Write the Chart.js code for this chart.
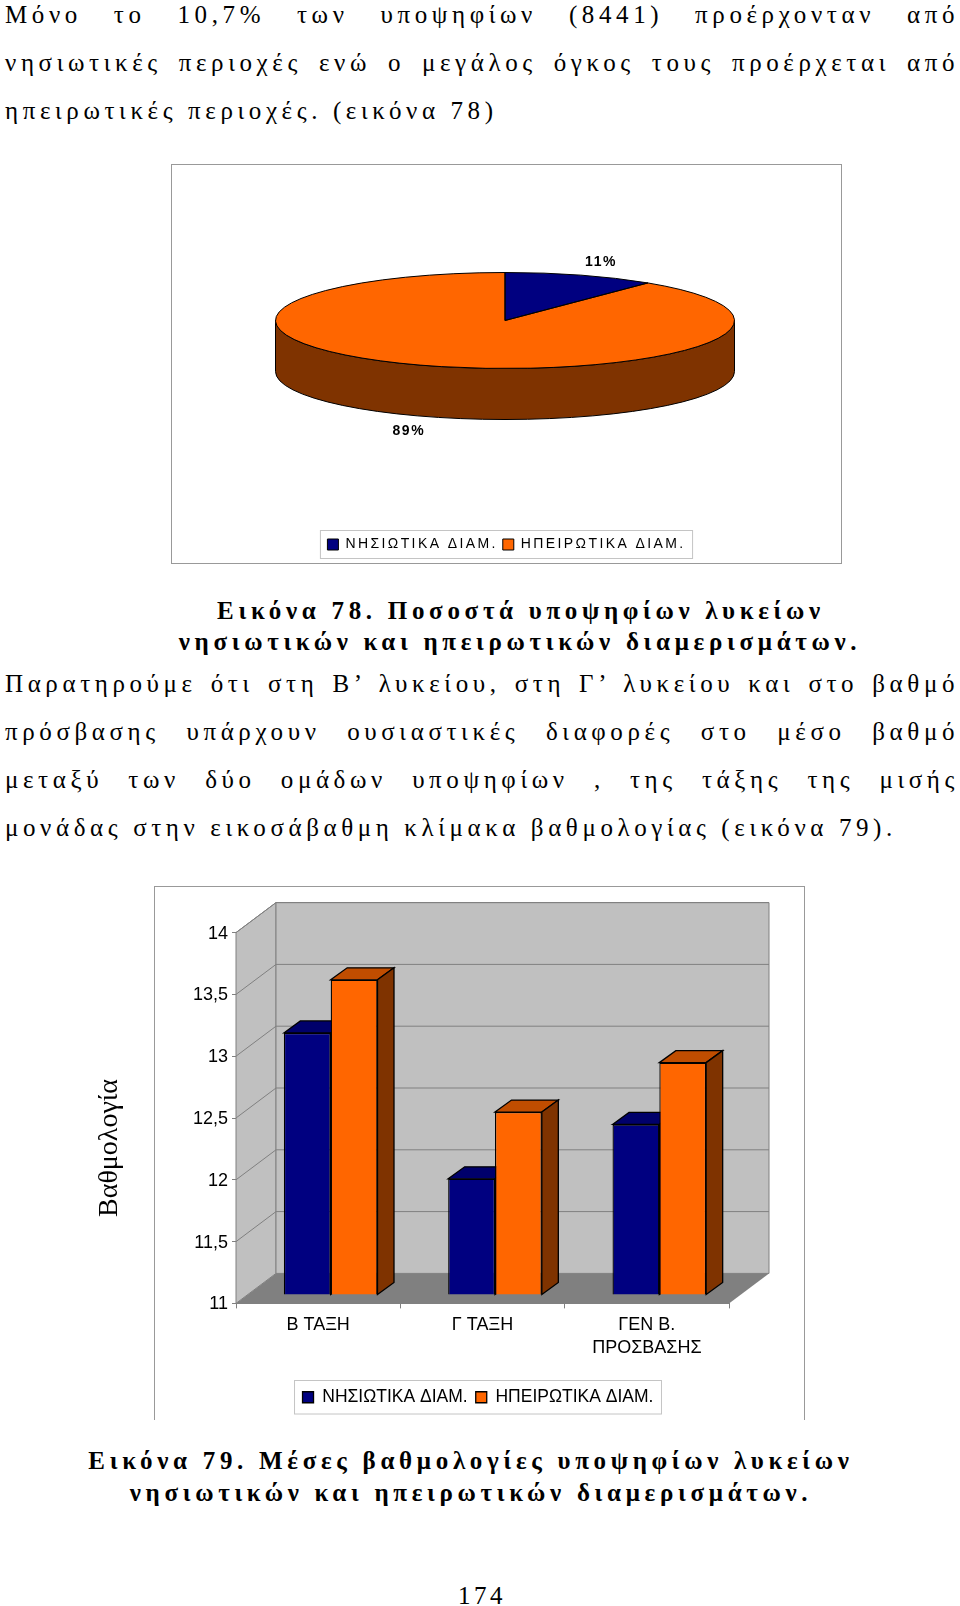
<!DOCTYPE html>
<html lang="el">
<head>
<meta charset="utf-8">
<title>Εικόνα 78-79</title>
<script src="https://cdn.jsdelivr.net/npm/chart.js@4"></script>
<style>
html, body { margin: 0; background: #fff; }
body { position: relative; width: 960px; height: 1606px; overflow: hidden; font-family: "Liberation Serif", serif; color: #000; }
.line { position: absolute; left: 5px; width: 954px; height: 30px; line-height: 30px; font-size: 25px; letter-spacing: 4.6px; white-space: normal; text-align: justify; text-align-last: justify; }
.line.free { text-align-last: left; white-space: nowrap; }
.cap { position: absolute; left: 0; width: 960px; height: 30px; line-height: 30px; font-size: 25px; font-weight: bold; letter-spacing: 4.7px; text-align: center; white-space: nowrap; }
.frame { position: absolute; box-sizing: border-box; border: 1px solid #999; }
canvas { position: absolute; }
</style>
</head>
<body>
<div class="line" style="top:0px">Μόνο το 10,7% των υποψηφίων (8441) προέρχονταν από</div>
<div class="line" style="top:48px">νησιωτικές περιοχές ενώ ο μεγάλος όγκος τους προέρχεται από</div>
<div class="line free" style="top:96px">ηπειρωτικές περιοχές. (εικόνα 78)</div>

<div class="frame" style="left:171px;top:164px;width:671px;height:400px"></div>
<canvas id="pieChart" width="671" height="400" style="left:171px;top:164px"></canvas>

<div class="cap" style="top:596px;left:41px">Εικόνα 78. Ποσοστά υποψηφίων λυκείων</div>
<div class="cap" style="top:627px;left:40px">νησιωτικών και ηπειρωτικών διαμερισμάτων.</div>

<div class="line" style="top:669px">Παρατηρούμε ότι στη Β’ λυκείου, στη Γ’ λυκείου και στο βαθμό</div>
<div class="line" style="top:717px">πρόσβασης υπάρχουν ουσιαστικές διαφορές στο μέσο βαθμό</div>
<div class="line" style="top:765px">μεταξύ των δύο ομάδων υποψηφίων , της τάξης της μισής</div>
<div class="line free" style="top:813px">μονάδας στην εικοσάβαθμη κλίμακα βαθμολογίας (εικόνα 79).</div>

<div class="frame" style="left:154px;top:886px;width:651px;height:534px;border-bottom:none"></div>
<canvas id="barChart" width="776" height="533" style="left:90px;top:886px"></canvas>

<div class="cap" style="top:1446px;left:-9px">Εικόνα 79. Μέσες βαθμολογίες υποψηφίων λυκείων</div>
<div class="cap" style="top:1478px;left:-9px">νησιωτικών και ηπειρωτικών διαμερισμάτων.</div>
<div class="cap" style="top:1581px;font-weight:normal;letter-spacing:3.5px;left:2px">174</div>

<script>
const seriesNames = ['ΝΗΣΙΩΤΙΚΑ ΔΙΑΜ.', 'ΗΠΕΙΡΩΤΙΚΑ ΔΙΑΜ.'];
const pieValues = [10.7, 89.3];
const barCategories = ['Β ΤΑΞΗ', 'Γ ΤΑΞΗ', ['ΓΕΝ Β.', 'ΠΡΟΣΒΑΣΗΣ']];
const islandScores = [13.12, 11.94, 12.38];
const mainlandScores = [13.55, 12.48, 12.88];
const yAxisTitle = 'Βαθμολογία';

const NAVY = '#000080';
const ORANGE = '#FF6600';
const BROWN = '#7F3300';

// draw the legend's outer box from its hit boxes
function legendFrame(chart, pad) {
    const ctx = chart.ctx;
    const boxes = chart.legend.legendHitBoxes;
    const first = boxes[0];
    const last = boxes[boxes.length - 1];
    ctx.save();
    ctx.strokeStyle = '#c4c4c4';
    ctx.lineWidth = 1;
    ctx.strokeRect(first.left - pad, first.top - pad,
        last.left + last.width - first.left + pad * 2, first.height + pad * 2);
    ctx.restore();
}

// the pie is flattened into an ellipse and given a side wall
const PIE_CX = 334, PIE_CY = 156.5, PIE_RY = 48, PIE_DEPTH = 51;

function flatten(ctx, arc) {
    ctx.translate(PIE_CX, PIE_CY);
    ctx.scale(1, PIE_RY / arc.outerRadius);
    ctx.translate(-arc.x, -arc.y);
}

const pie3d = {
    id: 'pie3d',
    beforeLayout(chart) { chart.ctx.letterSpacing = '2.4px'; },
    beforeDatasetDraw(chart) {
        const ctx = chart.ctx;
        const arc = chart.getDatasetMeta(0).data[0];
        const r = arc.outerRadius;
        ctx.save();
        ctx.beginPath();
        ctx.ellipse(PIE_CX, PIE_CY + PIE_DEPTH, r, PIE_RY, 0, 0, Math.PI);
        ctx.lineTo(PIE_CX - r, PIE_CY);
        ctx.ellipse(PIE_CX, PIE_CY, r, PIE_RY, 0, Math.PI, 0, true);
        ctx.closePath();
        ctx.fillStyle = BROWN;
        ctx.fill();
        ctx.strokeStyle = '#000';
        ctx.lineWidth = 1;
        ctx.stroke();
        ctx.restore();
        ctx.save();
        flatten(ctx, arc);
    },
    afterDatasetDraw(chart) {
        const ctx = chart.ctx;
        ctx.restore();
        ctx.strokeStyle = '#000';
        ctx.lineWidth = 1;
        chart.getDatasetMeta(0).data.forEach(function(arc) {
            ctx.save();
            flatten(ctx, arc);
            ctx.beginPath();
            ctx.moveTo(arc.x, arc.y);
            ctx.arc(arc.x, arc.y, arc.outerRadius, arc.startAngle, arc.endAngle);
            ctx.closePath();
            ctx.restore();
            ctx.stroke();
        });
        // percent labels outside the slices
        ctx.save();
        ctx.font = 'bold 14px "Liberation Sans"';
        ctx.letterSpacing = '1.6px';
        ctx.fillStyle = '#000';
        ctx.textAlign = 'center';
        ctx.textBaseline = 'middle';
        chart.getDatasetMeta(0).data.forEach(function(arc, i) {
            const mid = (arc.startAngle + arc.endAngle) / 2;
            const lx = PIE_CX + Math.cos(mid) * arc.outerRadius * 1.27;
            const below = Math.sin(mid) > 0 ? PIE_DEPTH + 1 : 0;
            const ly = PIE_CY + Math.sin(mid) * PIE_RY * 1.29 + below;
            ctx.fillText(Math.round(pieValues[i]) + '%', lx, ly);
        });
        ctx.restore();
    },
    afterDraw(chart) { legendFrame(chart, 7); }
};

new Chart(document.getElementById('pieChart'), {
    type: 'pie',
    data: {
        labels: seriesNames,
        datasets: [{
            data: pieValues,
            backgroundColor: [NAVY, ORANGE],
            borderWidth: 0,
            radius: 229.5,
            clip: false
        }]
    },
    options: {
        responsive: false,
        animation: false,
        layout: { padding: { bottom: 2.5 } },
        plugins: {
            tooltip: { enabled: false },
            legend: {
                position: 'bottom',
                labels: {
                    color: '#000',
                    boxWidth: 11,
                    boxHeight: 11,
                    padding: 5,
                    font: { family: '"Liberation Sans"', size: 14 },
                    generateLabels() {
                        return seriesNames.map(function(name, i) {
                            return { text: name, fillStyle: [NAVY, ORANGE][i], strokeStyle: '#000', lineWidth: 1, index: i };
                        });
                    }
                }
            }
        }
    },
    plugins: [pie3d]
});

// 3D look of the bar chart: walls behind the plot, depth faces on the bars
const WALL_DX = 40, WALL_DY = 30, BAR_SHIFT_X = 12.5, BAR_SHIFT_Y = 8.4, BAR_DX = 16.5, BAR_DY = 12;
const topColors = ['#00006B', '#C04D00'];
const sideColors = ['#000040', BROWN];

function poly(ctx, pts, fill, stroke) {
    ctx.beginPath();
    pts.forEach(function(p, i) { i ? ctx.lineTo(p[0], p[1]) : ctx.moveTo(p[0], p[1]); });
    ctx.closePath();
    ctx.fillStyle = fill;
    ctx.fill();
    if (stroke) {
        ctx.strokeStyle = stroke;
        ctx.stroke();
    }
}

const bar3d = {
    id: 'bar3d',
    beforeDatasetsDraw(chart) {
        const ctx = chart.ctx;
        const a = chart.chartArea;
        const dx = WALL_DX, dy = WALL_DY;
        ctx.save();
        ctx.lineWidth = 1;
        poly(ctx, [[a.left, a.bottom], [a.left, a.top], [a.left + dx, a.top - dy], [a.left + dx, a.bottom - dy]], '#C0C0C0', '#808080');
        poly(ctx, [[a.left + dx, a.top - dy], [a.right + dx, a.top - dy], [a.right + dx, a.bottom - dy], [a.left + dx, a.bottom - dy]], '#C0C0C0', '#808080');
        poly(ctx, [[a.left, a.bottom], [a.left + dx, a.bottom - dy], [a.right + dx, a.bottom - dy], [a.right, a.bottom]], '#808080');
        ctx.strokeStyle = '#808080';
        chart.scales.y.ticks.forEach(function(t) {
            const y = chart.scales.y.getPixelForValue(t.value);
            if (t.value === 11) return;
            ctx.beginPath();
            ctx.moveTo(a.left, y);
            ctx.lineTo(a.left + dx, y - dy);
            ctx.lineTo(a.right + dx, y - dy);
            ctx.stroke();
        });
        // depth faces go first so the front faces cover them
        ctx.translate(BAR_SHIFT_X, -BAR_SHIFT_Y);
        ctx.lineWidth = 1.3;
        [0, 1].forEach(function(d) {
            chart.getDatasetMeta(d).data.forEach(function(bar) {
                const l = bar.x - bar.width / 2, r = bar.x + bar.width / 2;
                poly(ctx, [[l, bar.y], [l + BAR_DX, bar.y - BAR_DY], [r + BAR_DX, bar.y - BAR_DY], [r, bar.y]], topColors[d], '#000');
                poly(ctx, [[r, bar.y], [r + BAR_DX, bar.y - BAR_DY], [r + BAR_DX, bar.base - BAR_DY], [r, bar.base]], sideColors[d], '#000');
            });
        });
        ctx.restore();
    },
    beforeDatasetDraw(chart) {
        chart.ctx.save();
        chart.ctx.translate(BAR_SHIFT_X, -BAR_SHIFT_Y);
    },
    afterDatasetDraw(chart) {
        chart.ctx.restore();
    },
    afterDraw(chart) {
        const ctx = chart.ctx;
        legendFrame(chart, 8);
        ctx.save();
        ctx.translate(20, 262);
        ctx.rotate(-Math.PI / 2);
        ctx.font = '28px "Liberation Serif"';
        ctx.fillStyle = '#000';
        ctx.textAlign = 'center';
        ctx.textBaseline = 'middle';
        ctx.fillText(yAxisTitle, 0, 0);
        ctx.restore();
    }
};

new Chart(document.getElementById('barChart'), {
    type: 'bar',
    data: {
        labels: barCategories,
        datasets: [
            { label: seriesNames[0], data: islandScores, base: 11, backgroundColor: NAVY, borderColor: '#000', borderWidth: 1.3, clip: false, inflateAmount: 0 },
            { label: seriesNames[1], data: mainlandScores, base: 11, backgroundColor: ORANGE, borderColor: '#000', borderWidth: 1.3, clip: false, inflateAmount: 0 }
        ]
    },
    options: {
        responsive: false,
        animation: false,
        layout: { padding: { top: 46.6, bottom: 3 } },
        datasets: { bar: { categoryPercentage: 0.57, barPercentage: 1 } },
        scales: {
            x: {
                grid: { display: true, drawOnChartArea: false, color: '#808080', tickLength: 5, offset: true },
                border: { color: '#808080' },
                ticks: {
                    color: '#000',
                    padding: 5,
                    maxRotation: 0,
                    autoSkip: false,
                    font: { family: '"Liberation Sans"', size: 18, lineHeight: 1.3 }
                },
                afterFit(scale) { scale.height = 77.1; }
            },
            y: {
                min: 11,
                max: 14,
                grid: { display: true, drawOnChartArea: false, color: '#808080', tickLength: 4 },
                border: { color: '#808080' },
                ticks: {
                    stepSize: 0.5,
                    color: '#000',
                    padding: 4,
                    labelOffset: 1,
                    font: { family: '"Liberation Sans"', size: 18 },
                    callback(v) { return String(v).replace('.', ','); }
                },
                afterFit(scale) { scale.width = 146; }
            },
            // empty axis, only keeps the plot left of the centred legend
            spacer: {
                position: 'right',
                grid: { display: false },
                border: { display: false },
                ticks: { display: false },
                afterFit(scale) { scale.width = 137; }
            }
        },
        plugins: {
            tooltip: { enabled: false },
            legend: {
                position: 'bottom',
                labels: {
                    color: '#000',
                    boxWidth: 11,
                    boxHeight: 11,
                    padding: 8,
                    font: { family: '"Liberation Sans"', size: 17.5 }
                }
            }
        }
    },
    plugins: [bar3d]
});
</script>
</body>
</html>
